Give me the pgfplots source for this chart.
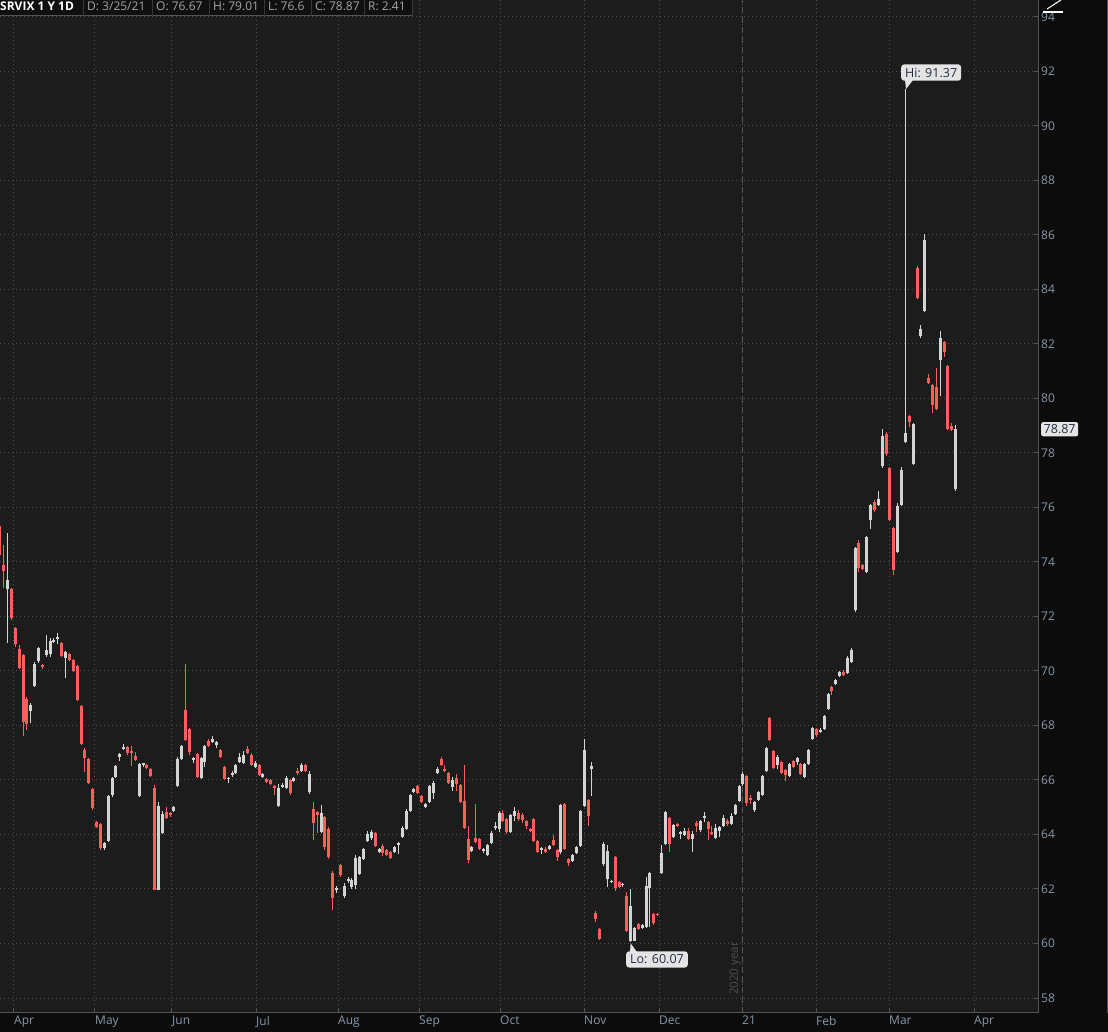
\documentclass[border=0pt]{standalone}
\usepackage{pgfplots}
\pgfplotsset{compat=1.18}
\usepackage{pgfplotstable}
\usepackage{fontspec}
\setmainfont{Open Sans}
\definecolor{bgall}{RGB}{12,12,12}
\definecolor{bgplot}{RGB}{28,28,28}
\definecolor{gridc}{RGB}{78,78,78}
\definecolor{axisc}{RGB}{85,85,85}
\definecolor{lblc}{RGB}{135,152,170}
\definecolor{redc}{RGB}{255,94,90}
\definecolor{grayc}{RGB}{212,212,212}
\definecolor{dashc}{RGB}{88,88,88}
\definecolor{yearc}{RGB}{78,78,78}
\definecolor{hdrc}{RGB}{16,16,16}
\definecolor{hdrtxt}{RGB}{165,165,165}
\definecolor{boxc}{RGB}{228,228,228}
\definecolor{boxtxt}{RGB}{35,45,65}
\definecolor{edgeblue}{RGB}{40,85,130}

\pgfplotstableread{
d O H L C
-4 75.32 75.46 74.18 74.25
-3 73.89 74.62 73.04 73.67
-1 73.01 73.05 71.87 71.94
0 71.57 71.60 70.88 70.99
1 70.80 70.95 70.08 70.11
2 70.58 70.62 67.61 68.13
3 68.97 69.04 67.83 68.05
7 70.22 70.25 70.07 70.14
12 71.02 71.06 70.51 70.55
14 70.62 70.66 70.37 70.40
15 70.40 70.44 69.96 70.00
16 70.18 70.22 68.89 68.93
17 68.71 68.75 67.28 67.32
18 67.10 67.17 66.29 66.80
19 66.77 66.80 65.85 65.89
20 65.67 65.70 64.90 64.97
21 64.46 64.49 64.24 64.27
22 64.38 64.42 63.43 63.50
29 67.21 67.24 66.91 66.99
30 67.06 67.24 66.51 66.99
31 66.88 67.02 66.69 66.73
34 66.55 66.58 66.40 66.44
35 66.40 66.44 66.11 66.14
36 65.70 65.81 61.95 61.98
39 64.82 65.00 64.56 64.60
40 64.79 64.82 64.64 64.71
44 68.57 70.25 67.43 67.46
45 67.87 67.90 66.91 67.02
47 66.95 66.99 66.07 66.11
50 67.43 67.50 67.21 67.24
53 67.10 67.13 66.80 66.84
54 66.47 66.51 65.99 66.03
60 67.13 67.24 66.95 66.99
61 66.91 66.99 66.51 66.55
63 66.55 66.58 66.14 66.18
65 66.03 66.07 65.88 65.92
66 65.99 66.03 65.81 65.85
67 65.78 65.81 65.45 65.70
71 65.99 66.03 65.45 65.52
73 66.33 66.44 66.18 66.25
75 66.55 66.58 66.29 66.33
77 64.93 65.19 63.79 64.42
78 64.82 64.85 64.05 64.71
80 64.64 64.68 63.43 63.54
81 64.20 64.27 63.10 63.17
82 62.58 62.66 61.23 61.67
84 62.88 62.91 62.44 62.51
93 64.05 64.09 63.54 63.57
95 63.57 63.65 63.21 63.32
96 63.43 63.46 63.21 63.24
97 63.35 63.39 63.10 63.13
104 65.78 65.81 65.48 65.52
105 65.41 65.45 65.15 65.19
110 66.77 66.84 66.51 66.55
111 66.40 66.55 66.29 66.33
112 66.25 66.29 65.85 65.89
114 66.07 66.22 65.59 65.85
115 65.81 65.85 65.15 65.19
116 65.23 66.55 64.20 64.24
117 63.83 64.31 62.95 63.06
119 63.87 65.12 63.68 63.72
120 63.83 63.87 63.43 63.46
126 64.79 64.90 64.46 64.49
127 64.57 64.60 64.02 64.09
130 64.79 64.90 64.49 64.57
131 64.71 64.79 64.42 64.53
132 64.49 64.53 64.20 64.31
133 64.16 64.24 64.09 64.13
134 64.57 64.60 63.72 63.76
135 63.76 63.79 63.32 63.35
137 63.46 63.54 63.32 63.35
139 63.79 63.98 63.57 63.61
140 63.43 63.46 63.02 63.17
142 65.12 65.15 63.43 63.46
143 63.10 63.13 62.84 62.95
148 65.26 65.30 64.31 64.68
150 61.11 61.18 60.80 60.89
151 60.53 60.57 60.13 60.16
155 63.17 63.21 61.92 62.03
156 62.25 62.29 62.03 62.07
158 61.74 61.89 60.42 60.46
161 60.71 60.75 60.50 60.53
165 61.07 61.11 60.68 60.75
166 61.07 61.11 61.00 61.04
169 64.60 64.64 63.35 63.65
171 64.38 64.42 64.27 64.31
174 64.13 64.24 63.79 63.83
176 64.42 64.49 64.09 64.31
179 64.46 64.49 63.79 64.20
180 64.09 64.31 63.98 64.02
184 64.49 64.57 64.31 64.38
189 66.14 66.18 65.04 65.15
190 65.34 65.45 65.12 65.26
195 68.27 68.31 67.43 67.46
196 67.06 67.10 66.40 66.44
198 66.66 66.69 66.22 66.25
199 66.36 66.40 65.96 66.18
201 66.69 66.73 66.44 66.47
203 66.58 66.62 66.18 66.22
207 67.87 67.90 67.57 67.65
211 69.41 69.45 69.12 69.26
214 69.97 70.03 69.80 69.85
218 74.69 74.80 73.63 73.78
219 73.89 73.92 73.70 73.74
222 76.20 76.27 75.83 75.91
225 78.69 78.77 77.89 77.96
226 77.45 77.48 75.50 75.54
227 75.25 75.29 73.52 73.70
231 79.35 79.39 78.95 79.13
233 84.79 84.86 83.65 83.69
236 80.75 80.90 80.53 80.57
237 80.49 80.53 79.46 79.76
238 80.42 81.11 79.57 79.61
240 82.07 82.11 81.52 81.70
241 81.19 81.22 78.84 78.88
242 78.99 79.10 78.80 78.84
}\redtab

\pgfplotstableread{
d O H L C
-2 73.01 75.06 71.02 73.34
4 68.53 68.82 68.09 68.75
5 69.45 70.33 69.42 70.25
6 70.37 70.88 70.29 70.84
8 70.58 71.32 70.51 70.77
9 70.62 71.21 70.51 71.10
10 71.06 71.21 71.02 71.13
11 71.17 71.39 70.99 71.24
13 70.47 70.73 69.74 70.69
23 63.50 63.72 63.43 63.69
24 63.76 65.45 63.72 65.41
25 65.45 66.11 65.37 66.07
26 66.11 66.55 66.07 66.51
27 66.84 66.99 66.69 66.95
28 67.13 67.32 67.10 67.21
32 65.41 66.62 65.37 66.58
33 66.55 66.62 66.47 66.58
37 61.98 65.19 61.95 65.04
38 64.05 64.86 64.01 64.75
41 64.86 65.04 64.82 65.00
42 65.78 66.84 65.74 66.77
43 66.77 67.28 66.73 67.24
46 66.73 66.84 66.62 66.80
48 66.07 66.84 66.03 66.80
49 66.66 67.28 66.47 67.24
51 67.39 67.61 67.35 67.50
52 67.28 67.43 67.17 67.39
55 66.02 66.11 65.89 66.07
56 66.20 66.33 66.11 66.25
57 66.25 66.58 66.22 66.55
58 66.66 66.99 66.62 66.84
59 66.62 67.06 66.58 66.91
62 66.47 66.69 66.44 66.62
64 66.11 66.25 66.07 66.22
68 65.04 65.85 65.00 65.70
69 65.74 65.88 65.70 65.81
70 65.70 66.14 65.67 66.07
72 65.96 66.11 65.92 66.07
74 66.33 66.62 66.29 66.55
76 65.56 66.33 65.48 66.22
79 64.09 65.08 64.05 64.79
83 61.98 62.11 61.85 62.02
85 61.74 62.22 61.67 62.11
86 62.29 62.44 62.22 62.33
87 62.07 62.40 61.99 62.33
88 62.14 63.24 61.99 63.13
89 62.55 63.21 62.51 63.17
90 63.10 63.50 63.06 63.46
91 63.76 64.13 63.72 64.01
92 63.87 64.16 63.79 64.09
94 63.35 63.50 63.32 63.46
98 63.35 63.57 63.32 63.54
99 63.61 63.72 63.28 63.68
100 63.90 64.31 63.87 64.24
101 64.20 64.93 64.16 64.86
102 64.86 65.48 64.82 65.45
103 65.56 65.70 65.52 65.67
106 65.00 65.15 64.97 65.12
107 65.19 65.81 65.15 65.78
108 65.52 65.96 65.30 65.89
109 66.25 66.47 66.22 66.40
113 65.74 66.11 65.59 65.99
118 63.39 63.57 63.35 63.54
121 63.39 63.50 63.32 63.43
122 63.24 63.65 63.21 63.61
123 63.68 64.13 63.65 64.05
124 64.24 64.46 64.16 64.27
125 64.20 64.86 64.09 64.79
128 64.09 64.75 64.05 64.71
129 64.68 65.00 64.49 64.86
136 63.43 63.54 63.28 63.46
138 63.46 63.61 63.43 63.57
141 63.35 65.12 63.28 65.08
144 63.02 63.28 62.99 63.24
145 63.32 63.57 63.28 63.54
146 63.57 64.90 63.54 64.86
147 65.04 67.50 65.00 67.10
149 66.40 66.66 65.41 66.51
152 62.91 63.72 62.84 63.65
153 62.36 63.61 62.07 63.39
154 62.25 62.33 62.22 62.29
157 62.14 62.22 62.07 62.18
159 60.09 61.99 60.07 61.37
160 60.09 60.60 60.09 60.57
162 60.57 60.71 60.53 60.68
163 60.60 62.44 60.57 62.11
164 62.03 62.62 60.60 62.58
167 62.58 63.61 62.55 63.32
168 63.65 64.86 63.61 64.82
170 63.90 64.38 63.87 64.35
172 64.02 64.13 63.83 64.05
173 63.98 64.24 63.94 64.13
175 63.83 64.13 63.35 64.02
177 64.16 64.53 64.09 64.49
178 64.62 64.82 64.46 64.64
181 63.87 64.38 63.83 64.24
182 64.13 64.31 63.90 64.27
183 64.31 64.71 64.27 64.60
185 64.38 64.79 64.35 64.68
186 64.75 65.12 64.71 65.08
187 65.23 65.81 65.19 65.78
188 65.85 66.29 65.78 66.22
191 64.90 65.23 64.82 65.19
192 65.26 65.59 65.23 65.56
193 65.45 66.18 65.41 66.14
194 66.33 67.21 66.29 67.17
197 66.55 66.91 66.40 66.84
200 66.14 66.62 66.11 66.58
202 66.66 66.84 66.55 66.80
204 66.11 66.62 66.07 66.58
205 66.58 67.13 66.55 67.10
206 67.50 67.94 67.46 67.90
208 67.76 67.90 67.72 67.83
209 67.87 68.38 67.83 68.35
210 68.60 69.19 68.57 69.15
212 69.52 69.70 69.48 69.67
213 69.80 70.00 69.77 69.95
215 69.92 70.55 69.88 70.47
216 70.33 70.84 70.29 70.77
217 72.23 74.55 72.16 74.51
220 73.63 74.95 73.59 74.91
221 75.54 76.13 75.21 76.09
223 76.09 76.60 76.05 76.31
224 77.52 78.88 77.45 78.62
228 74.36 76.16 74.32 76.05
229 76.09 77.48 76.05 77.37
230 78.40 91.37 78.36 78.73
232 77.59 79.10 77.55 79.06
234 82.29 82.69 82.22 82.55
235 83.21 86.03 83.17 85.81
239 81.41 82.47 80.09 82.22
243 76.67 79.01 76.60 78.87
}\graytab

\begin{document}
\begin{tikzpicture}
\useasboundingbox (0pt,0pt) rectangle (1108pt,1032pt);
\fill[bgall] (0pt,0pt) rectangle (1108pt,1032pt);
\begin{axis}[
  at={(0pt,19pt)}, anchor=south west,
  width=1038pt, height=1013pt, scale only axis,
  xmin=-3.95, xmax=264.26, ymin=57.45, ymax=94.62,
  axis x line*=bottom, axis y line*=right,
  axis line style={draw=axisc, line width=1pt},
  tick align=inside, major tick length=4pt,
  tick style={draw=axisc, line width=1pt},
  xtick={-0.34,20.59,40.49,62.20,83.39,104.32,125.25,146.95,166.33,187.78,206.90,225.76,247.73},
  xticklabels={Apr,May,Jun,Jul,Aug,Sep,Oct,Nov,Dec,21,Feb,Mar,Apr},
  ytick={58,60,...,94},
  grid=major,
  major grid style={draw=gridc, line width=1pt, dash pattern=on 1pt off 3pt},
  axis background/.style={fill=bgplot},
  /pgf/number format/assume math mode=true,
  ticklabel style={font=\fontsize{12}{14}\selectfont, text=lblc},
  xticklabel style={anchor=north west, inner xsep=0pt, inner ysep=3pt},
  yticklabel style={anchor=west, inner xsep=3pt, inner ysep=0pt},
]
\draw[draw=dashc, line width=1pt, dash pattern=on 6pt off 4pt] (axis cs:187.91,57.45) -- (axis cs:187.91,94.62);
\node[rotate=90, anchor=west, text=yearc, font=\fontsize{11.5}{13}\selectfont, inner sep=0pt] at (axis cs:185.97,58.11) {2020 year};

% wicks
\addplot[draw=redc, line width=1pt, quiver={u=0, v={\thisrow{H}-\thisrow{L}}}] table[x=d, y=L] {\redtab};
\addplot[draw=grayc, line width=1pt, quiver={u=0, v={\thisrow{H}-\thisrow{L}}}] table[x=d, y=L] {\graytab};
% bodies
\addplot[draw=redc, line width=3pt, quiver={u=0, v={max(\thisrow{O}-\thisrow{C},0.06)}}] table[x=d, y=C] {\redtab};
\addplot[draw=grayc, line width=3pt, quiver={u=0, v={max(\thisrow{C}-\thisrow{O},0.06)}}] table[x=d, y=O] {\graytab};

% Hi / Lo labels
\fill[boxc] (axis cs:229.9,91.68) -- (axis cs:231.96,91.68) -- (axis cs:230.15,91.35) -- cycle;
\node[fill=boxc, rounded corners=3pt, anchor=south west, text=boxtxt, font=\fontsize{12.5}{14}\selectfont, inner xsep=4pt, inner ysep=3.5pt] at (axis cs:228.86,91.65) {Hi: 91.37};
\fill[boxc] (axis cs:158.84,59.68) -- (axis cs:160.65,59.68) -- (axis cs:159,60.01) -- cycle;
\node[fill=boxc, rounded corners=3pt, anchor=north west, text=boxtxt, font=\fontsize{12.5}{14}\selectfont, inner xsep=4pt, inner ysep=3.5pt] at (axis cs:157.8,59.72) {Lo: 60.07};
\coordinate (cp) at (axis cs:264.26,78.87);
\end{axis}

% current price tag
\node[fill=boxc, rounded corners=2pt, anchor=west, text=boxtxt, font=\fontsize{12.5}{14}\selectfont, inner xsep=2.5pt, inner ysep=2.5pt] at ([xshift=3pt]cp) {78.87};

% right edge line
\draw[edgeblue, line width=1pt] (1107.5pt,19pt) -- (1107.5pt,1032pt);

% drawing tool icon
\draw[white, line width=1pt] (1047pt,1023pt) .. controls (1052pt,1026pt) and (1056pt,1029pt) .. (1061pt,1032pt);
\draw[white, line width=1.5pt] (1043pt,1020pt) -- (1063pt,1020pt);

% header bar
\fill[hdrc] (0pt,1016pt) rectangle (412pt,1032pt);
\draw[axisc, line width=1pt] (0pt,1016pt) -- (412pt,1016pt);
\foreach \xx in {83,152,209,264,311,364,412} {\draw[draw={rgb,255:red,55;green,55;blue,55}, line width=1pt] (\xx pt,1016pt) -- (\xx pt,1032pt);}
\begin{scope}[every node/.style={anchor=base west, inner sep=0pt, font=\fontsize{12}{14}\selectfont, text=hdrtxt}]
\node[text=white, font=\fontsize{12}{14}\selectfont\bfseries] at (0pt,1021pt) {SRVIX 1 Y 1D};
\node at (87pt,1021pt) {D: 3/25/21};
\node at (156pt,1021pt) {O: 76.67};
\node at (213pt,1021pt) {H: 79.01};
\node at (268pt,1021pt) {L: 76.6};
\node at (315pt,1021pt) {C: 78.87};
\node at (368pt,1021pt) {R: 2.41};
\end{scope}
\end{tikzpicture}
\end{document}
